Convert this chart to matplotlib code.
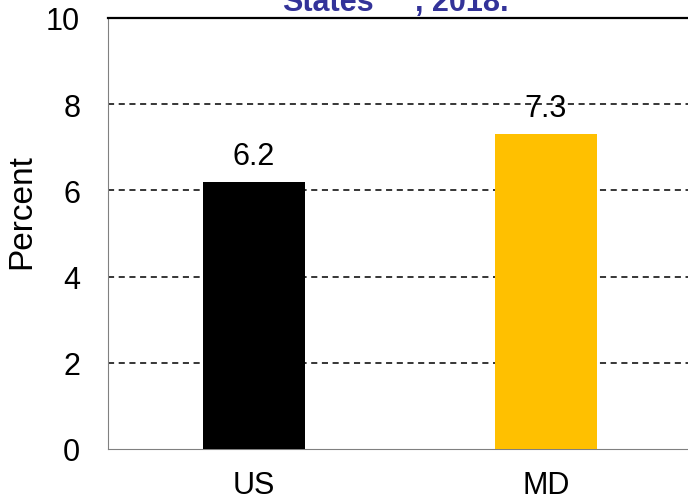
import matplotlib.pyplot as plt

plt.rcParams['font.family'] = ['Liberation Sans', 'DejaVu Sans']

# data
categories = ['US', 'MD']
values = [6.2, 7.3]
colors = ['#000000', '#FFC000']
yticks = [0, 2, 4, 6, 8, 10]

fig = plt.figure(figsize=(6.88, 5.02), dpi=100)
ax = fig.add_axes([108 / 688, 52 / 502, 584 / 688, 431 / 502])

x = list(range(len(categories)))
ax.bar(x, values, width=0.35, color=colors, zorder=3)
for xi, v in zip(x, values):
    ax.annotate(f'{v}', (xi, v), xytext=(0, 13), textcoords='offset points',
                ha='center', va='baseline', fontsize=22, zorder=4)

ax.set_xlim(-0.5, 1.5)
ax.set_ylim(0, 10)
ax.set_yticks(yticks)
ax.set_xticks(x)
ax.set_xticklabels(categories)
ax.tick_params(axis='both', labelsize=22, length=0)
ax.tick_params(axis='x', pad=15)
ax.tick_params(axis='y', pad=20)

for yv in yticks[1:-1]:
    ax.axhline(yv, color='black', linestyle=(0, (4, 3)), linewidth=1.1, zorder=1)

ax.spines['top'].set_color('black')
ax.spines['top'].set_linewidth(1.6)
ax.spines['right'].set_visible(False)
ax.spines['left'].set_color('#808080')
ax.spines['bottom'].set_color('#808080')

fig.text(21.5 / 688, 1 - 212 / 502, 'Percent', rotation=90, fontsize=24,
         ha='center', va='center')

# title, clipped at the top of the picture
fig.text(282 / 688, 1 - 11 / 502, 'States', color='#333399', fontsize=22,
         fontweight='bold', ha='left', va='baseline')
fig.text(415 / 688, 1 - 11 / 502, ', 2018.', color='#333399', fontsize=22,
         fontweight='bold', ha='left', va='baseline')

fig.savefig('out.png', dpi=100)
